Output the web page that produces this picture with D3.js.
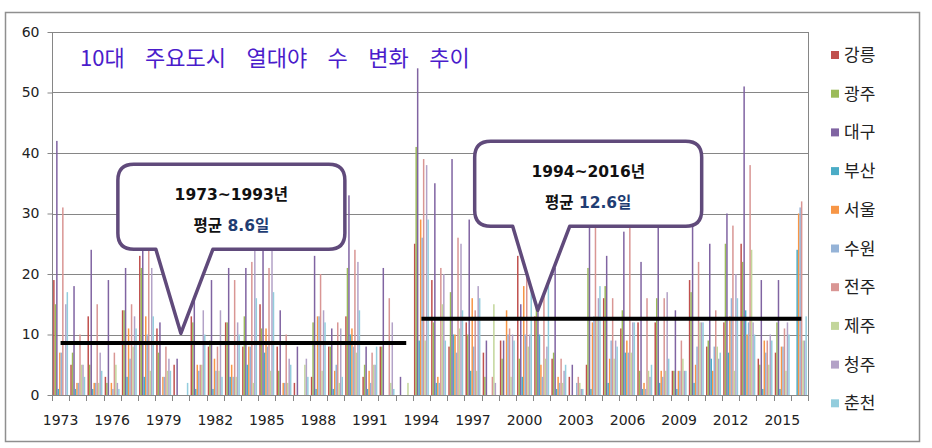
<!DOCTYPE html>
<html><head><meta charset="utf-8">
<script src="https://cdn.jsdelivr.net/npm/d3@7/dist/d3.min.js"></script>
<style>
html,body{margin:0;padding:0;background:#fff;}
svg{display:block;}
</style>
</head><body>
<svg id="chart" width="932" height="448"></svg>
<script>
const years = [1973,1974,1975,1976,1977,1978,1979,1980,1981,1982,1983,1984,1985,1986,1987,1988,1989,1990,1991,1992,1993,1994,1995,1996,1997,1998,1999,2000,2001,2002,2003,2004,2005,2006,2007,2008,2009,2010,2011,2012,2013,2014,2015,2016];
const cities = ["강릉","광주","대구","부산","서울","수원","전주","제주","청주","춘천"];
const colors = ["#C0504D","#9BBB59","#8064A2","#4BACC6","#F79646","#95B3D7","#D99694","#C3D69B","#B3A2C7","#93CDDD"];

const gangneung = [19,5,13,3,14,23,11,5,13,8, 12,8,15,8,2,3,8,13,3,8, 0,25,19,8,12,7,9,23,13,6, 3,5,16,11,12,12,4,19,8,12, 25,6,7,0];
const gwangju   = [15,7,5,2,14,21,7,0,12,9, 12,13,11,4,0,12,8,21,5,8, 0,41,12,17,10,3,6,6,18,7, 0,21,18,14,4,16,4,17,9,25, 22,5,12,0];
const daegu     = [42,18,24,19,21,38,12,6,19,19, 21,21,30,14,8,23,11,33,8,21, 3,54,35,39,29,9,9,15,23,21, 5,28,23,27,22,34,14,36,25,30, 51,19,19,0];
const busan     = [1,1,1,0,3,3,0,0,1,1, 3,5,7,0,0,1,1,10,1,0, 0,9,2,10,4,0,0,3,10,1, 0,1,2,7,1,2,1,2,6,7, 14,1,1,24];
const seoul     = [7,2,2,2,11,13,3,0,5,6, 5,8,11,2,0,13,4,11,4,0, 0,29,3,10,16,0,14,18,5,3, 0,12,6,9,2,4,4,5,4,13, 10,9,8,30];
const suwon     = [7,2,2,1,6,10,3,0,4,4, 3,8,8,2,0,13,5,8,2,0, 0,26,2,7,8,0,10,10,3,2, 2,13,9,7,1,3,4,8,8,16, 12,7,8,31];
const jeonju    = [31,10,15,7,15,29,8,0,5,8, 19,22,21,10,0,20,12,24,7,16, 0,39,21,26,14,3,11,25,22,6, 3,29,16,28,16,16,9,22,14,28, 38,9,11,32];
const jeju      = [0,5,2,5,8,4,4,0,5,4, 3,2,4,2,5,4,2,7,5,2, 2,9,15,11,4,15,3,8,6,2, 2,13,6,7,4,4,6,12,8,4, 24,5,4,9];
const cheongju  = [15,5,7,2,13,21,6,0,14,14, 12,26,28,6,6,14,11,22,5,12, 0,38,20,25,18,2,10,10,8,4, 1,16,9,12,3,17,4,12,6,20, 12,10,12,9];
const chuncheon = [17,3,4,1,11,13,4,2,10,3, 10,16,17,5,3,12,3,14,8,1, 0,29,9,14,16,0,9,22,19,5, 1,18,8,12,5,6,4,12,7,16, 10,9,10,13];
const seriesValues = [gangneung,gwangju,daegu,busan,seoul,suwon,jeonju,jeju,cheongju,chuncheon];

const yTicks = [0,10,20,30,40,50,60];
const xTickLabels = [1973,1976,1979,1982,1985,1988,1991,1994,1997,2000,2003,2006,2009,2012,2015];

const title = "10대 주요도시 열대야 수 변화 추이";
const periods = [
  {label:"1973~1993년", prefix:"평균 ", avgText:"8.6일", avg:8.6, from:1973, to:1993, tipYear:1980, tipValue:10.2, shift:0},
  {label:"1994~2016년", prefix:"평균 ", avgText:"12.6일", avg:12.6, from:1994, to:2016, tipYear:2001, tipValue:14, shift:-4}
];

const svg = d3.select("#chart");
const plotLeft = 52, plotRight = 808, plotTop = 32, plotBottom = 395;

// outer frame
svg.append("rect").attr("x",5.5).attr("y",12.5).attr("width",914).attr("height",429)
  .attr("fill","#fff").attr("stroke","#8f8f8f").attr("stroke-width",1.5);

const x = d3.scaleBand().domain(years).range([plotLeft,plotRight]).paddingInner(0.13).paddingOuter(0.065);
const x1 = d3.scaleBand().domain(cities).range([0,x.bandwidth()]).padding(0);
const y = d3.scaleLinear().domain([0,60]).range([plotBottom,plotTop]);
const step = x.step();

// gridlines
svg.append("g").selectAll("line").data(yTicks.filter(d=>d>0)).join("line")
  .attr("x1",plotLeft).attr("x2",plotRight)
  .attr("y1",d=>Math.round(y(d))+0.5).attr("y2",d=>Math.round(y(d))+0.5)
  .attr("stroke","#868686").attr("stroke-width",1);
svg.append("line").attr("x1",plotRight+0.5).attr("x2",plotRight+0.5).attr("y1",plotTop).attr("y2",plotBottom)
  .attr("stroke","#868686");

// bars
const gBars = svg.append("g");
cities.forEach((c,ci)=>{
  gBars.append("g").attr("fill",colors[ci]).selectAll("rect")
    .data(years.map((yr,i)=>({yr, v:seriesValues[ci][i]})))
    .join("rect")
    .attr("x",d=>x(d.yr)+x1(c))
    .attr("width",x1.bandwidth())
    .attr("y",d=>y(d.v))
    .attr("height",d=>y(0)-y(d.v));
});

// y axis
const yAxis = d3.axisLeft(y).tickValues(yTicks).tickSize(5).tickPadding(8).tickFormat(d3.format("d"));
const gy = svg.append("g").attr("transform",`translate(${plotLeft+0.5},0)`).call(yAxis);
gy.select(".domain").attr("stroke","#868686").attr("d",`M0,${plotTop}V${plotBottom}`);
gy.selectAll(".tick line").attr("stroke","#868686");
gy.selectAll(".tick text").attr("font-family","DejaVu Sans, Verdana, sans-serif").attr("font-size",14).attr("fill","#222");

// x axis: ticks at category boundaries
const gx = svg.append("g");
gx.append("line").attr("x1",plotLeft).attr("x2",plotRight).attr("y1",plotBottom+0.5).attr("y2",plotBottom+0.5).attr("stroke","#868686");
const boundaries = years.map((yr)=>x(yr)-(step-x.bandwidth())/2).concat([plotRight]);
gx.selectAll("line.tk").data(boundaries).join("line").attr("class","tk")
  .attr("x1",d=>Math.round(d)+0.5).attr("x2",d=>Math.round(d)+0.5)
  .attr("y1",plotBottom).attr("y2",plotBottom+6).attr("stroke","#868686");
gx.selectAll("text").data(xTickLabels).join("text")
  .attr("x",d=>x(d)+x.bandwidth()/2).attr("y",plotBottom+30)
  .attr("text-anchor","middle")
  .attr("font-family","DejaVu Sans, Verdana, sans-serif").attr("font-size",14).attr("fill","#222")
  .text(d=>d);

// average lines
svg.append("g").selectAll("line").data(periods).join("line")
  .attr("x1",d=>x(d.from)+x.bandwidth()/2).attr("x2",d=>x(d.to)+x.bandwidth()/2+2)
  .attr("y1",d=>y(d.avg)).attr("y2",d=>y(d.avg))
  .attr("stroke","#000").attr("stroke-width",4);

// title
svg.append("text").attr("x",80).attr("y",66)
  .attr("font-family","'Noto Sans CJK KR', sans-serif").attr("font-size",22)
  .attr("fill","#4A1CCB").attr("word-spacing",15.5)
  .text(title);

// callouts
const boxW = 227, boxH = 85, r = 16;
periods.forEach(p=>{
  const tx = x(p.tipYear)+x.bandwidth()/2 + p.shift;
  const ty = y(p.tipValue);
  const bx = tx - 63, by = ty - 169;
  const b1 = tx - 25, b2 = tx + 32;
  const bb = by + boxH;
  const path = `M${bx+r},${by} H${bx+boxW-r} Q${bx+boxW},${by} ${bx+boxW},${by+r} V${bb-r} Q${bx+boxW},${bb} ${bx+boxW-r},${bb} H${b2} L${tx},${ty} L${b1},${bb} H${bx+r} Q${bx},${bb} ${bx},${bb-r} V${by+r} Q${bx},${by} ${bx+r},${by} Z`;
  svg.append("path").attr("d",path).attr("fill","#fff").attr("stroke","#604A7B").attr("stroke-width",3.5).attr("stroke-linejoin","round");
  const cx = bx + boxW/2;
  svg.append("text").attr("x",cx).attr("y",by+36).attr("text-anchor","middle")
    .attr("font-family","DejaVu Sans, 'Noto Sans CJK KR', sans-serif").attr("font-weight","bold").attr("font-size",15.5)
    .attr("fill","#111").text(p.label);
  const t2 = svg.append("text").attr("x",cx).attr("y",by+67).attr("text-anchor","middle")
    .attr("font-family","DejaVu Sans, 'Noto Sans CJK KR', sans-serif").attr("font-weight","bold").attr("font-size",15.5);
  t2.append("tspan").attr("fill","#111").text(p.prefix);
  t2.append("tspan").attr("fill","#1F3D73").text(p.avgText);
});

// legend
const lg = svg.append("g");
cities.forEach((c,i)=>{
  const cy = 55 + i*38.7;
  lg.append("rect").attr("x",831).attr("y",cy-4).attr("width",8).attr("height",8).attr("fill",colors[i]);
  lg.append("text").attr("x",844).attr("y",cy+6).attr("font-family","'Noto Sans CJK KR', sans-serif")
    .attr("font-size",17).attr("fill","#222").text(c);
});
</script>
</body></html>
